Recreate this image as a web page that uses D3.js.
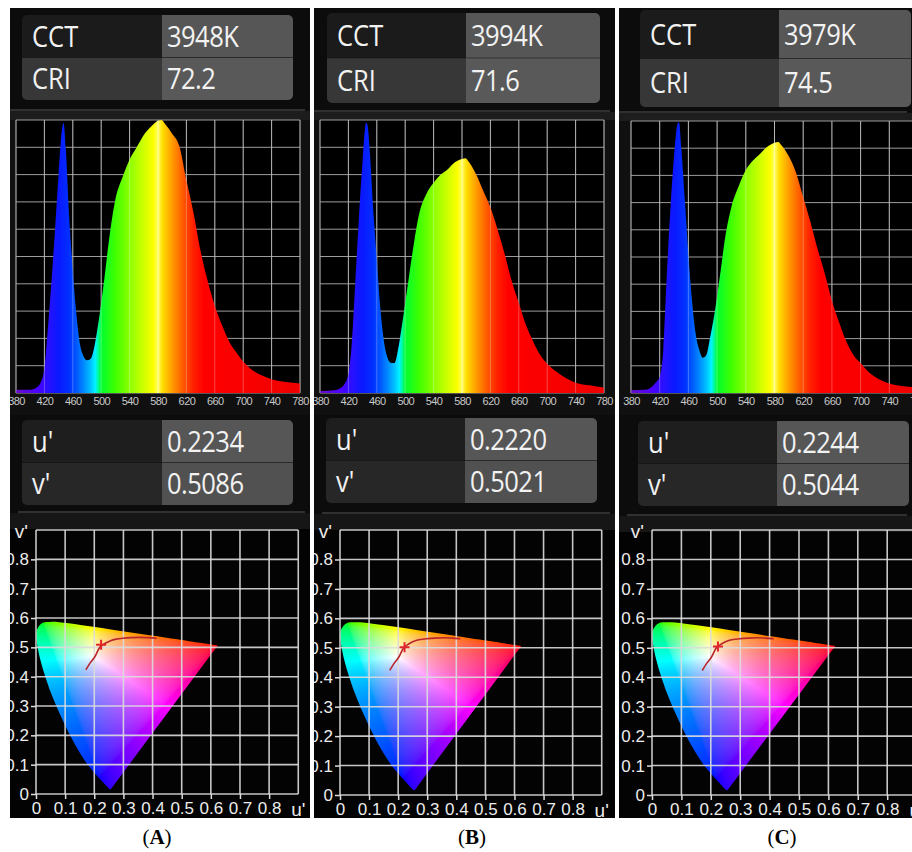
<!DOCTYPE html>
<html>
<head>
<meta charset="utf-8">
<script src="https://cdn.jsdelivr.net/npm/d3@7"></script>
<style>
  body { margin: 0; background: #fff; }
</style>
</head>
<body>
<svg id="fig" width="912" height="852"></svg>
<script>
// ---- values ----
const panelNames = ["A", "B", "C"];
const cctValues = ["3948K", "3994K", "3979K"];
const criValues = ["72.2", "71.6", "74.5"];
const uValues = [0.2234, 0.2220, 0.2244];
const vValues = [0.5086, 0.5021, 0.5044];

const wavelengths = [380, 400, 410, 415, 420, 425, 430, 435, 440, 445, 447, 450, 455, 460, 465, 470, 475, 480, 485, 490,
  495, 500, 505, 510, 520, 530, 540, 550, 560, 570, 580, 585, 590, 600, 610, 620, 630, 640, 650, 660,
  670, 680, 690, 700, 710, 720, 730, 740, 760, 780];
const spectrumA = [0.012, 0.012, 0.022, 0.04, 0.09, 0.24, 0.41, 0.6, 0.8, 0.97, 0.99, 0.9, 0.64, 0.45, 0.29, 0.18, 0.135, 0.12, 0.125, 0.165,
  0.24, 0.33, 0.43, 0.54, 0.71, 0.79, 0.855, 0.9, 0.945, 0.975, 0.997, 1.0, 0.985, 0.95, 0.905, 0.78, 0.66, 0.52, 0.41, 0.32,
  0.25, 0.19, 0.15, 0.115, 0.09, 0.072, 0.06, 0.05, 0.04, 0.035];
const spectrumB = [0.007, 0.01, 0.02, 0.035, 0.07, 0.19, 0.42, 0.65, 0.85, 0.99, 0.98, 0.89, 0.67, 0.49, 0.31, 0.19, 0.13, 0.11, 0.11, 0.16,
  0.24, 0.33, 0.42, 0.51, 0.66, 0.73, 0.77, 0.8, 0.82, 0.845, 0.857, 0.86, 0.845, 0.8, 0.74, 0.68, 0.6, 0.51, 0.41, 0.33,
  0.25, 0.19, 0.14, 0.107, 0.083, 0.065, 0.049, 0.038, 0.028, 0.02];
const spectrumC = [0.01, 0.012, 0.025, 0.04, 0.06, 0.16, 0.44, 0.68, 0.87, 0.99, 0.995, 0.905, 0.71, 0.51, 0.34, 0.22, 0.16, 0.13, 0.14, 0.2,
  0.27, 0.355, 0.45, 0.55, 0.685, 0.76, 0.82, 0.855, 0.88, 0.905, 0.92, 0.923, 0.91, 0.87, 0.81, 0.72, 0.63, 0.53, 0.44, 0.34,
  0.26, 0.19, 0.14, 0.11, 0.08, 0.06, 0.045, 0.035, 0.025, 0.02];
const spectra = [spectrumA, spectrumB, spectrumC];

const wlTicks = [380, 420, 460, 500, 540, 580, 620, 660, 700, 740, 780];
const uvTicks = [0, 0.1, 0.2, 0.3, 0.4, 0.5, 0.6, 0.7, 0.8];

// fill colour along the wavelength axis
const specStops = [380, 410, 425, 440, 455, 465, 475, 485, 492, 500, 520, 540, 560, 574, 580, 586, 600, 615, 630, 645, 780];
const specColors = ["#6a10c8", "#4a00ff", "#2a10ff", "#0a18ff", "#0030ff", "#0058ff", "#0088ff", "#00c0ff", "#00f4ff", "#00ff30",
  "#40ff00", "#8cff00", "#d0ff00", "#ffff00", "#ffff70", "#ffe000", "#ff9c00", "#ff5a00", "#ff2000", "#ff0000", "#f00000"];

// spectral locus (u', v'), 380 nm -> 700 nm, closed by the purple line
const locusU = [0.2568, 0.2522, 0.2461, 0.2347, 0.216, 0.1877, 0.169, 0.1441, 0.1147, 0.0828, 0.0521, 0.0282, 0.0119, 0.0035,
  0.0014, 0.0046, 0.0231, 0.0501, 0.0792, 0.1127, 0.1531, 0.2026, 0.2623, 0.3315, 0.4035, 0.5203, 0.5565, 0.6234];
const locusV = [0.0165, 0.0169, 0.0226, 0.035, 0.0549, 0.0871, 0.112, 0.151, 0.2044, 0.2708, 0.3427, 0.4117, 0.4698, 0.513,
  0.5432, 0.5638, 0.5837, 0.5868, 0.5856, 0.5821, 0.5766, 0.5694, 0.5604, 0.5501, 0.5393, 0.5219, 0.5165, 0.5065];

// black body curve as drawn
const planckU = [0.171, 0.186, 0.202, 0.219, 0.236, 0.254, 0.276, 0.299, 0.327, 0.357, 0.385, 0.414];
const planckV = [0.423, 0.447, 0.468, 0.5, 0.513, 0.522, 0.528, 0.531, 0.533, 0.534, 0.533, 0.531];

// ---- layout of the three screenshots ----
const layout = [
  { left: 10, right: 310, tab1: { x: 22, y: 15, w: 271, h: 85, col: 140 }, sep1: 110,
    spec: { x: 16, y: 120, w: 284, h: 273 }, tab2: { x: 22, y: 420, w: 271, h: 85, col: 140 }, sep2: 512,
    cie: { x: 36, y: 794, sx: 291.4, sy: 293.3 }, cap: 157 },
  { left: 314, right: 615, tab1: { x: 327, y: 13, w: 273, h: 90, col: 139 }, sep1: 111,
    spec: { x: 320, y: 120, w: 284, h: 273 }, tab2: { x: 326, y: 418, w: 271, h: 85, col: 139 }, sep2: 513,
    cie: { x: 340, y: 795, sx: 290.8, sy: 294.4 }, cap: 472 },
  { left: 619, right: 912, tab1: { x: 640, y: 10, w: 271, h: 97, col: 139 }, sep1: 112,
    spec: { x: 631, y: 121, w: 287, h: 272 }, tab2: { x: 638, y: 421, w: 271, h: 85, col: 139 }, sep2: 515,
    cie: { x: 652, y: 795, sx: 294, sy: 294.4 }, cap: 782 }
];
const panelTop = 8, panelBottom = 818;

const svg = d3.select("#fig");
svg.append("rect").attr("width", 912).attr("height", 852).attr("fill", "#fff");
const defs = svg.append("defs");

function drawTable(g, t, rows, cells) {
  const id = "tc" + Math.round(t.x) + "_" + Math.round(t.y);
  defs.append("clipPath").attr("id", id)
    .append("rect").attr("x", t.x).attr("y", t.y).attr("width", t.w).attr("height", t.h).attr("rx", 5);
  const tg = g.append("g").attr("clip-path", `url(#${id})`);
  const rh = t.h / 2;
  rows.forEach((r, i) => {
    tg.append("rect").attr("x", t.x).attr("y", t.y + i * rh).attr("width", t.col).attr("height", rh).attr("fill", cells[i][0]);
    tg.append("rect").attr("x", t.x + t.col).attr("y", t.y + i * rh).attr("width", t.w - t.col).attr("height", rh).attr("fill", cells[i][1]);
    const by = t.y + i * rh + rh / 2 + 10.5;
    tg.append("text").attr("transform", `translate(${t.x + 10},${by}) scale(0.88,1)`)
      .attr("font-family", "Open Sans, sans-serif").attr("font-size", 29).attr("fill", "#f2f2f2").text(r[0]);
    tg.append("text").attr("transform", `translate(${t.x + t.col + 5},${by}) scale(0.88,1)`)
      .attr("font-family", "Open Sans, sans-serif").attr("font-size", 29).attr("fill", "#f2f2f2")
      .attr("letter-spacing", -0.6).text(r[1]);
  });
  tg.append("line").attr("x1", t.x).attr("x2", t.x + t.w).attr("y1", t.y + rh).attr("y2", t.y + rh)
    .attr("stroke", "#111").attr("stroke-opacity", 0.5);
}

// wide-gamut rgb (primaries on the locus corners, D65 white) used to paint the diagram
function inv3(m) {
  const [a, b, c, d, e, f, g, h, i] = m;
  const A = e * i - f * h, B = -(d * i - f * g), C = d * h - e * g;
  const det = a * A + b * B + c * C;
  return [A / det, -(b * i - c * h) / det, (b * f - c * e) / det,
          B / det, (a * i - c * g) / det, -(a * f - c * d) / det,
          C / det, -(a * h - b * g) / det, (a * e - b * d) / det];
}
const prim = [[0.7347, 0.2653], [0.0743, 0.8338], [0.1566, 0.0177]];
const P = [0, 1, 2].map(k => [prim[k][0] / prim[k][1], 1, (1 - prim[k][0] - prim[k][1]) / prim[k][1]]);
const Pm = [P[0][0], P[1][0], P[2][0], P[0][1], P[1][1], P[2][1], P[0][2], P[1][2], P[2][2]];
const Pi = inv3(Pm);
const W = [0.95047, 1, 1.08883];
const S = [0, 1, 2].map(r => Pi[r * 3] * W[0] + Pi[r * 3 + 1] * W[1] + Pi[r * 3 + 2] * W[2]);
const Mi = inv3(Pm.map((v, k) => v * S[k % 3]));

function gamutRaster(cu, cv) {
  const px0 = Math.floor(cu(0)) - 1, px1 = Math.ceil(cu(0.65));
  const py0 = Math.floor(cv(0.6)), py1 = Math.ceil(cv(0)) + 1;
  const w = px1 - px0, h = py1 - py0;
  const canvas = document.createElement("canvas");
  canvas.width = w; canvas.height = h;
  const ctx = canvas.getContext("2d");
  const img = ctx.createImageData(w, h);
  const gam = c => Math.pow(c, 1 / 2.0);
  for (let j = 0; j < h; j++) {
    for (let i = 0; i < w; i++) {
      const u = cu.invert(px0 + i + 0.5), v = Math.max(cv.invert(py0 + j + 0.5), 0.003);
      const d = 6 * u - 16 * v + 12;
      const x = 9 * u / d, y = 4 * v / d;
      const X = x / y, Z = (1 - x - y) / y;
      let r = Mi[0] * X + Mi[1] + Mi[2] * Z;
      let gg = Mi[3] * X + Mi[4] + Mi[5] * Z;
      let b = Mi[6] * X + Mi[7] + Mi[8] * Z;
      r = Math.max(r, 0); gg = Math.max(gg, 0); b = Math.max(b, 0);
      const m = Math.max(r, gg, b) || 1;
      const k = (j * w + i) * 4;
      img.data[k] = 255 * gam(r / m);
      img.data[k + 1] = 255 * gam(gg / m);
      img.data[k + 2] = 255 * gam(b / m);
      img.data[k + 3] = 255;
    }
  }
  ctx.putImageData(img, 0, 0);
  return { href: canvas.toDataURL(), x: px0, y: py0, w: w, h: h };
}

layout.forEach((L, p) => {
  const clipId = "panel" + p;
  defs.append("clipPath").attr("id", clipId)
    .append("rect").attr("x", L.left).attr("y", panelTop).attr("width", L.right - L.left).attr("height", panelBottom - panelTop);
  const g = svg.append("g").attr("clip-path", `url(#${clipId})`);

  g.append("rect").attr("x", L.left).attr("y", panelTop).attr("width", L.right - L.left).attr("height", panelBottom - panelTop)
    .attr("fill", "#0c0c0c");

  // CCT / CRI table
  drawTable(g, L.tab1, [["CCT", cctValues[p]], ["CRI", criValues[p]]],
    [["#1b1b1b", "#565656"], ["#373737", "#595959"]]);
  g.append("line").attr("x1", L.left).attr("x2", L.right - 5).attr("y1", L.sep1).attr("y2", L.sep1)
    .attr("stroke", "#3c3c3c").attr("stroke-width", 1.5);

  // ---- spectrum ----
  const s = L.spec;
  g.append("rect").attr("x", L.left).attr("y", L.sep1 + 1).attr("width", L.right - L.left).attr("height", s.y - L.sep1 - 1)
    .attr("fill", "#1d1d1d");
  g.append("rect").attr("x", L.left).attr("y", s.y).attr("width", L.right - L.left).attr("height", s.h + 22)
    .attr("fill", "#101010");
  g.append("rect").attr("x", s.x).attr("y", s.y).attr("width", s.w).attr("height", s.h).attr("fill", "#000");

  const xw = d3.scaleLinear().domain([380, 780]).range([s.x, s.x + s.w]);
  const yw = d3.scaleLinear().domain([0, 1]).range([s.y + s.h, s.y]);

  const gridS = g.append("g").attr("stroke", "#9c9c9c").attr("stroke-width", 1);
  yw.ticks(10).forEach(t => gridS.append("line").attr("x1", s.x).attr("x2", s.x + s.w).attr("y1", yw(t)).attr("y2", yw(t)));
  wlTicks.forEach(t => gridS.append("line").attr("x1", xw(t)).attr("x2", xw(t)).attr("y1", s.y).attr("y2", s.y + s.h));

  const gradId = "spec" + p;
  const grad = defs.append("linearGradient").attr("id", gradId).attr("gradientUnits", "userSpaceOnUse")
    .attr("x1", xw(380)).attr("x2", xw(780)).attr("y1", 0).attr("y2", 0);
  specStops.forEach((w, i) => grad.append("stop").attr("offset", (w - 380) / 400).attr("stop-color", specColors[i]));

  const area = d3.area()
    .x((d, i) => xw(wavelengths[i]))
    .y0(yw(0))
    .y1(d => yw(d))
    .curve(d3.curveMonotoneX);
  g.append("path").datum(spectra[p]).attr("d", area).attr("fill", `url(#${gradId})`);

  // grid shows faintly through the fill
  const gridOver = g.append("g").attr("stroke", "#fff").attr("stroke-opacity", 0.28).attr("stroke-width", 1);
  wlTicks.forEach(t => gridOver.append("line").attr("x1", xw(t)).attr("x2", xw(t)).attr("y1", s.y).attr("y2", s.y + s.h));

  const ax = g.append("g").attr("transform", `translate(0,${s.y + s.h})`)
    .call(d3.axisBottom(xw).tickValues(wlTicks).tickSize(0).tickPadding(4));
  ax.select(".domain").remove();
  ax.selectAll("text").attr("fill", "#c8c8c8").attr("font-family", "Liberation Sans, Arial, sans-serif")
    .attr("font-size", 11).attr("letter-spacing", -0.6);

  // u' v' table
  drawTable(g, L.tab2, [["u'", uValues[p].toFixed(4)], ["v'", vValues[p].toFixed(4)]],
    [["#1e1e1e", "#565656"], ["#272727", "#515151"]]);
  g.append("line").attr("x1", L.left + 8).attr("x2", L.right - 5).attr("y1", L.sep2).attr("y2", L.sep2)
    .attr("stroke", "#3c3c3c").attr("stroke-width", 1.5);

  // ---- CIE 1976 u'v' diagram ----
  const c = L.cie;
  g.append("rect").attr("x", L.left).attr("y", L.sep2 + 1).attr("width", L.right - L.left).attr("height", 16)
    .attr("fill", "#161616");
  g.append("rect").attr("x", L.left).attr("y", L.sep2 + 17).attr("width", L.right - L.left).attr("height", panelBottom - L.sep2 - 17)
    .attr("fill", "#030303");

  const cu = d3.scaleLinear().domain([0, 0.9]).range([c.x, c.x + 0.9 * c.sx]);
  const cv = d3.scaleLinear().domain([0, 0.9]).range([c.y, c.y - 0.9 * c.sy]);

  const locus = d3.line().x((d, i) => cu(locusU[i])).y((d, i) => cv(locusV[i])).curve(d3.curveCatmullRom.alpha(0.5));
  const gamId = "gam" + p;
  defs.append("clipPath").attr("id", gamId).append("path").attr("d", locus(locusU) + "Z");
  const ras = gamutRaster(cu, cv);
  g.append("image").attr("href", ras.href).attr("x", ras.x).attr("y", ras.y)
    .attr("width", ras.w).attr("height", ras.h).attr("clip-path", `url(#${gamId})`);

  const gridC = g.append("g").attr("stroke", "#dcdcdc").attr("stroke-width", 1.6).attr("stroke-opacity", 0.9);
  cu.ticks(9).forEach(t => gridC.append("line").attr("x1", cu(t)).attr("x2", cu(t)).attr("y1", cv(0)).attr("y2", cv(0.9)));
  cv.ticks(9).forEach(t => gridC.append("line").attr("x1", cu(0)).attr("x2", cu(0.9)).attr("y1", cv(t)).attr("y2", cv(t)));

  const fmt = d => d === 0 ? "0" : d3.format(".1f")(d);
  const axL = g.append("g").attr("transform", `translate(${cu(0)},0)`)
    .call(d3.axisLeft(cv).tickValues(uvTicks).tickFormat(fmt).tickSize(5).tickPadding(2));
  const axB = g.append("g").attr("transform", `translate(0,${cv(0)})`)
    .call(d3.axisBottom(cu).tickValues(uvTicks).tickFormat(fmt).tickSize(5).tickPadding(3));
  [axL, axB].forEach(a => {
    a.select(".domain").remove();
    a.selectAll("line").attr("stroke", "#dcdcdc").attr("stroke-width", 1.5);
    a.selectAll("text").attr("fill", "#ececec").attr("font-family", "Liberation Sans, Arial, sans-serif").attr("font-size", 17);
  });
  g.append("text").attr("x", cu(0) - 8).attr("y", cv(0.9) + 8).attr("text-anchor", "end")
    .attr("font-family", "Liberation Sans, Arial, sans-serif").attr("font-size", 19).attr("fill", "#ececec").text("v'");
  g.append("text").attr("x", cu(0.9)).attr("y", cv(0) + 22).attr("text-anchor", "middle")
    .attr("font-family", "Liberation Sans, Arial, sans-serif").attr("font-size", 19).attr("fill", "#ececec").text("u'");

  const planck = d3.line().x((d, i) => cu(planckU[i])).y((d, i) => cv(planckV[i])).curve(d3.curveCatmullRom);
  g.append("path").datum(planckU).attr("d", planck).attr("fill", "none").attr("stroke", "#b8262a").attr("stroke-width", 1.6);

  const pu = cu(uValues[p]), pv = cv(vValues[p]);
  g.append("path").attr("d", `M${pu - 5},${pv}h10M${pu},${pv - 5}v10`).attr("stroke", "#e0242b").attr("stroke-width", 2);

  // caption
  const cap = svg.append("text").attr("x", L.cap).attr("y", 844).attr("text-anchor", "middle")
    .attr("font-family", "Liberation Serif, Times New Roman, serif").attr("font-size", 21).attr("fill", "#000");
  cap.append("tspan").text("(");
  cap.append("tspan").attr("font-weight", "bold").text(panelNames[p]);
  cap.append("tspan").text(")");
});
</script>
</body>
</html>
